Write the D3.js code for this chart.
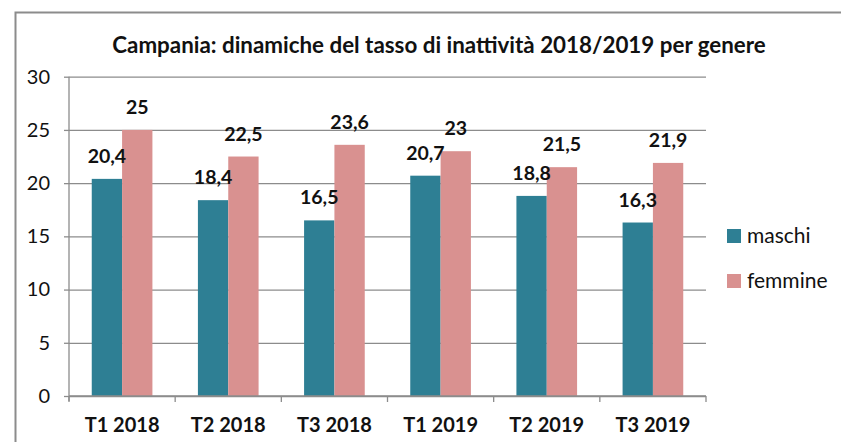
<!DOCTYPE html>
<html>
<head>
<meta charset="utf-8">
<script src="https://cdn.jsdelivr.net/npm/d3@7"></script>
<style>
  html, body { margin: 0; padding: 0; background: #fff; }
  svg { display: block; }
  text { font-family: Lato, "Open Sans", "Liberation Sans", sans-serif; }
</style>
</head>
<body>
<svg id="chart" width="841" height="442"></svg>
<script>
// Quarterly inactivity rate in Campania, by gender
const categories = ["T1 2018", "T2 2018", "T3 2018", "T1 2019", "T2 2019", "T3 2019"];
const seriesNames = ["maschi", "femmine"];
const maschi  = [20.4, 18.4, 16.5, 20.7, 18.8, 16.3];
const femmine = [25, 22.5, 23.6, 23, 21.5, 21.9];
const yTicks = [0, 5, 10, 15, 20, 25, 30];
const colors = ["#2e7f94", "#d99190"];
const titleText = "Campania: dinamiche del tasso di inattività 2018/2019 per genere";

const svg = d3.select("#chart");
const fmt = v => String(v).replace(".", ",");

// scale a text element's font so it spans the given width
function fitWidth(sel, size, width) {
  sel.attr("font-size", size);
  const w = sel.node().getComputedTextLength();
  sel.attr("font-size", size * width / w);
}

// outer chart frame
svg.append("rect")
  .attr("x", 15.5).attr("y", 12.5)
  .attr("width", 900).attr("height", 500)
  .attr("fill", "#fff").attr("stroke", "#8c8c8c").attr("stroke-width", 2);

const plot = { left: 69, right: 706, top: 76.7, bottom: 396 };

const x = d3.scaleBand().domain(categories).range([plot.left, plot.right]).paddingInner(0).paddingOuter(0);
const xs = d3.scaleBand().domain(seriesNames).range([0, x.bandwidth()]).paddingInner(0).paddingOuter(0.75);
const y = d3.scaleLinear().domain([0, 30]).range([plot.bottom, plot.top]);

// horizontal gridlines + y axis
const yAxis = d3.axisLeft(y).tickValues(yTicks).tickSize(-(plot.right - plot.left)).tickPadding(19);
const gy = svg.append("g").attr("transform", `translate(${plot.left},0)`).call(yAxis);
gy.select(".domain").remove();
gy.selectAll(".tick line").attr("stroke", "#8c8c8c").attr("stroke-width", 1.3);
gy.selectAll(".tick").append("line").attr("x1", -5).attr("x2", 0).attr("stroke", "#8c8c8c").attr("stroke-width", 1.3);
gy.selectAll(".tick text").attr("font-size", 20).attr("fill", "#111");

// vertical axis line
svg.append("line").attr("x1", plot.left).attr("x2", plot.left)
  .attr("y1", plot.top).attr("y2", plot.bottom + 5)
  .attr("stroke", "#8c8c8c").attr("stroke-width", 1.3);

// bars
const rows = categories.map((c, i) => ({ cat: c, vals: [maschi[i], femmine[i]] }));
const groups = svg.append("g").selectAll("g").data(rows).join("g")
  .attr("transform", d => `translate(${x(d.cat)},0)`);

groups.selectAll("rect").data(d => d.vals.map((v, k) => ({ v, k })))
  .join("rect")
  .attr("x", d => xs(seriesNames[d.k]))
  .attr("width", xs.bandwidth())
  .attr("y", d => y(d.v))
  .attr("height", d => y(0) - y(d.v))
  .attr("fill", d => colors[d.k]);

// value labels
groups.selectAll("text.val").data(d => d.vals.map((v, k) => ({ v, k })))
  .join("text").attr("class", "val")
  .attr("x", d => xs(seriesNames[d.k]) + xs.bandwidth() / 2)
  .attr("y", d => y(d.v) - 16)
  .attr("text-anchor", "middle")
  .attr("font-size", 19.5).attr("font-weight", "bold").attr("fill", "#111")
  .text(d => fmt(d.v));

// x axis
const xAxis = d3.axisBottom(x).tickSize(0);
const gx = svg.append("g").attr("transform", `translate(0,${plot.bottom})`).call(xAxis);
gx.select(".domain").remove();
gx.selectAll(".tick text").attr("y", 36).attr("dy", 0)
  .attr("font-size", 20).attr("font-weight", "bold").attr("fill", "#111");
svg.append("line").attr("x1", plot.left).attr("x2", plot.right)
  .attr("y1", plot.bottom).attr("y2", plot.bottom)
  .attr("stroke", "#8c8c8c").attr("stroke-width", 1.3);
svg.append("g").selectAll("line").data(categories.concat(["end"]))
  .join("line")
  .attr("x1", (d, i) => plot.left + i * x.bandwidth())
  .attr("x2", (d, i) => plot.left + i * x.bandwidth())
  .attr("y1", plot.bottom).attr("y2", plot.bottom + 6)
  .attr("stroke", "#8c8c8c").attr("stroke-width", 1.3);

// title
const title = svg.append("text")
  .attr("x", 439).attr("y", 53)
  .attr("text-anchor", "middle")
  .attr("font-weight", "bold").attr("fill", "#111")
  .text(titleText);
fitWidth(title, 18, 654);

// legend
const legend = svg.append("g").selectAll("g").data(seriesNames).join("g")
  .attr("transform", (d, i) => `translate(727,${229 + i * 45})`);
legend.append("rect").attr("width", 14).attr("height", 14).attr("fill", (d, i) => colors[i]);
legend.append("text").attr("x", 20).attr("y", 14)
  .attr("font-size", 21).attr("fill", "#111").text(d => d);
</script>
</body>
</html>
